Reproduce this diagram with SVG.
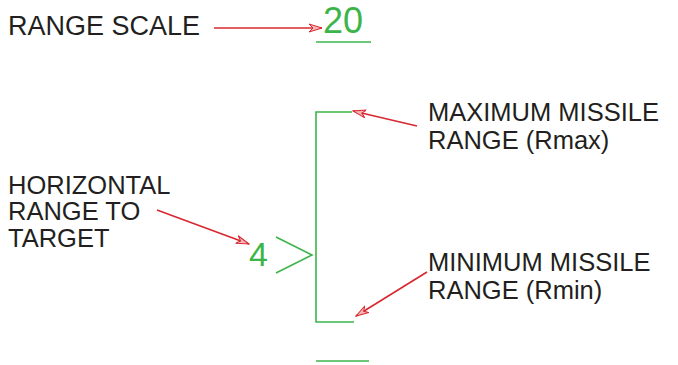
<svg xmlns="http://www.w3.org/2000/svg" width="678" height="365" viewBox="0 0 678 365">
<style>
.lbl{font-family:"Liberation Sans",Arial,sans-serif;font-size:25.5px;fill:#231f20}
.big{font-size:27px}
.num{font-family:"Liberation Sans",Arial,sans-serif;fill:#3cb44a}
.g{stroke:#3cb44a;stroke-width:1.6;fill:none}
.r{stroke:#d7282f;stroke-width:1.6;fill:none}
</style>
<defs>
<marker id="ah" viewBox="0 0 14 10" refX="13" refY="5" markerWidth="14" markerHeight="10" markerUnits="userSpaceOnUse" orient="auto">
<path d="M0,1 L13,5 L0,9 L4,5 Z" fill="#f4b6b8" stroke="#d7282f" stroke-width="1"/>
</marker>
</defs>
<g id="range-scale-label"><text class="lbl big" x="8" y="35">RANGE SCALE</text></g>
<g id="range-scale-value"><text class="num" x="323" y="33" font-size="36">20</text><line class="g" x1="316" y1="42" x2="371" y2="42"/></g>
<g id="bracket"><polyline class="g" points="352,112 316,112 316,322 354,322"/></g>
<g id="target-marker"><text class="num" x="249" y="266" font-size="34">4</text><polyline class="g" points="276,237 312,255 276,273"/></g>
<g id="bottom-line"><line class="g" x1="316" y1="361" x2="369" y2="361"/></g>
<g id="horizontal-label"><text class="lbl"><tspan x="8" y="194">HORIZONTAL</tspan><tspan x="8" y="220">RANGE TO</tspan><tspan x="8" y="247">TARGET</tspan></text></g>
<g id="max-label"><text class="lbl"><tspan x="428" y="121">MAXIMUM MISSILE</tspan><tspan x="428" y="149">RANGE (Rmax)</tspan></text></g>
<g id="min-label"><text class="lbl"><tspan x="428" y="271">MINIMUM MISSILE</tspan><tspan x="428" y="299">RANGE (Rmin)</tspan></text></g>
<g id="connectors">
<line class="r" x1="214" y1="28" x2="322" y2="28" marker-end="url(#ah)"/>
<line class="r" x1="157" y1="210" x2="249" y2="244" marker-end="url(#ah)"/>
<line class="r" x1="417" y1="126" x2="353" y2="111" marker-end="url(#ah)"/>
<line class="r" x1="427" y1="272" x2="356" y2="316" marker-end="url(#ah)"/>
</g>
</svg>
